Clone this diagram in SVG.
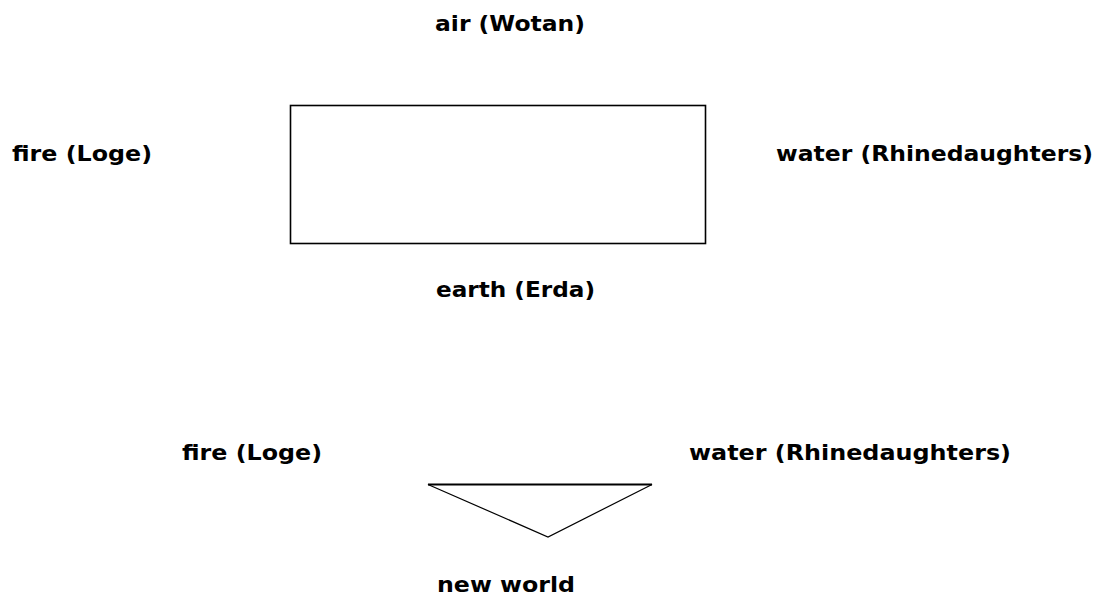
<svg xmlns="http://www.w3.org/2000/svg" width="1104" height="596" viewBox="0 0 1104 596">
<style>
.t{font-family:"DejaVu Sans","Liberation Sans",Arial,sans-serif;font-weight:bold;font-size:22px;fill:#000}
.s{fill:#fff;stroke:#000;stroke-width:1.6}
</style>
<rect width="1104" height="596" fill="#fff"/>
<g id="air"><text class="t" x="435" y="31" textLength="150" lengthAdjust="spacingAndGlyphs">air (Wotan)</text></g>
<g id="fire-top"><text class="t" x="12" y="161" textLength="140" lengthAdjust="spacingAndGlyphs">fire (Loge)</text></g>
<g id="water-top"><text class="t" x="776" y="161" textLength="317" lengthAdjust="spacingAndGlyphs">water (Rhinedaughters)</text></g>
<g id="world-box"><rect class="s" x="290.5" y="105.5" width="415" height="138"/></g>
<g id="earth"><text class="t" x="436" y="297" textLength="159" lengthAdjust="spacingAndGlyphs">earth (Erda)</text></g>
<g id="fire-bottom"><text class="t" x="182" y="460" textLength="140" lengthAdjust="spacingAndGlyphs">fire (Loge)</text></g>
<g id="water-bottom"><text class="t" x="689" y="460" textLength="322" lengthAdjust="spacingAndGlyphs">water (Rhinedaughters)</text></g>
<g id="new-world-triangle"><polygon fill="#fff" stroke="#000" stroke-width="1.2" points="428,484.5 652,484.5 548,537"/><line x1="428" y1="484.5" x2="652" y2="484.5" stroke="#000" stroke-width="2"/></g>
<g id="new-world"><text class="t" x="437" y="592" textLength="138" lengthAdjust="spacingAndGlyphs">new world</text></g>
<g id="connectors"></g>
</svg>
